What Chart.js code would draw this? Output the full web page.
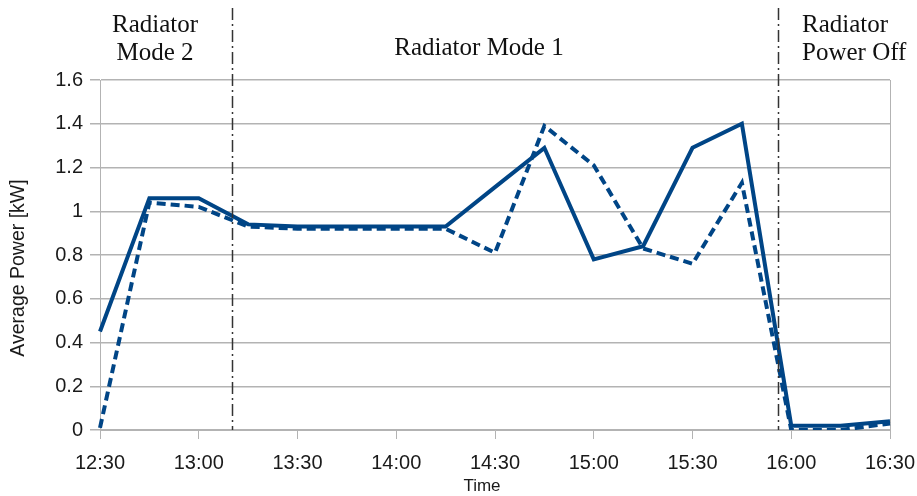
<!DOCTYPE html>
<html>
<head>
<meta charset="utf-8">
<script src="https://cdn.jsdelivr.net/npm/chart.js@4/dist/chart.umd.min.js"></script>
<style>
  html, body { margin: 0; padding: 0; background: #fff; }
  #wrap { width: 917px; height: 496px; position: relative; }
</style>
</head>
<body>
<div id="wrap"><canvas id="grafico"></canvas></div>
<script>
// Datos
const horas = ["12:30", "12:45", "13:00", "13:15", "13:30", "13:45", "14:00", "14:15", "14:30",
               "14:45", "15:00", "15:15", "15:30", "15:45", "16:00", "16:15", "16:30"];
const potenciaSolida = [0.45, 1.06, 1.06, 0.94, 0.93, 0.93, 0.93, 0.93, 1.11,
                        1.29, 0.78, 0.84, 1.29, 1.40, 0.02, 0.02, 0.04];
const potenciaDiscontinua = [0.01, 1.04, 1.02, 0.93, 0.92, 0.92, 0.92, 0.92, 0.81,
                             1.39, 1.21, 0.83, 0.76, 1.13, 0.00, 0.00, 0.03];
const ticksY = [0, 0.2, 0.4, 0.6, 0.8, 1, 1.2, 1.4, 1.6];
// Cambios de modo (posición en el eje, en índices de categoría)
const cambiosModo = [2.67, 13.73];
const etiquetasModo = [
  { lineas: ["Radiator", "Mode 2"], x: 155, align: "center" },
  { lineas: ["Radiator Mode 1"], x: 479, align: "center", y0: 55 },
  { lineas: ["Radiator", "Power Off"], x: 802, align: "left" }
];
const tituloX = "Time";
const tituloY = "Average Power [kW]";

const azul = "#004586";
const gris = "#b3b3b3";
const texto = "#1a1a1a";

// Plugin para las líneas verticales, los textos de arriba y los títulos de ejes
const pluginModos = {
  id: "modos",
  afterDatasetsDraw(chart) {
    const ctx = chart.ctx;
    const xScale = chart.scales.x;
    const area = chart.chartArea;
    ctx.save();
    ctx.strokeStyle = "#333";
    ctx.lineWidth = 1.5;
    ctx.setLineDash([12, 4, 2, 4]);
    cambiosModo.forEach(v => {
      const px = Math.round(xScale.getPixelForValue(v)) + 0.5;
      ctx.beginPath();
      ctx.moveTo(px, 8);
      ctx.lineTo(px, area.bottom);
      ctx.stroke();
    });
    ctx.setLineDash([]);
    ctx.fillStyle = "#111";
    ctx.font = "25px 'Liberation Serif'";
    ctx.textBaseline = "alphabetic";
    etiquetasModo.forEach(e => {
      ctx.textAlign = e.align;
      let y = e.y0 || 32;
      e.lineas.forEach(l => {
        ctx.fillText(l, e.x, y);
        y += 28;
      });
    });

    // Títulos de los ejes
    ctx.fillStyle = texto;
    ctx.font = "17px 'Liberation Sans'";
    ctx.textAlign = "center";
    ctx.textBaseline = "middle";
    ctx.fillText(tituloX, 482, 486);
    ctx.font = "19.5px 'Liberation Sans'";
    ctx.translate(19, 268);
    ctx.rotate(-Math.PI / 2);
    ctx.fillText(tituloY, 0, 0);
    ctx.restore();
  }
};

new Chart(document.getElementById("grafico"), {
  type: "line",
  data: {
    labels: horas,
    datasets: [
      {
        data: potenciaSolida,
        borderColor: azul,
        borderWidth: 4,
        pointRadius: 0,
        tension: 0,
        fill: false
      },
      {
        data: potenciaDiscontinua,
        borderColor: azul,
        borderWidth: 4,
        borderDash: [9, 5],
        pointRadius: 0,
        tension: 0,
        fill: false
      }
    ]
  },
  options: {
    responsive: true,
    maintainAspectRatio: false,
    animation: false,
    layout: { padding: { top: 80, right: 0, left: 0, bottom: 0 } },
    plugins: {
      legend: { display: false },
      tooltip: { enabled: false }
    },
    scales: {
      x: {
        type: "category",
        offset: false,
        border: { color: gris, width: 1 },
        grid: {
          drawOnChartArea: true,
          color: c => (c.index === horas.length - 1 ? gris : "transparent"),
          tickColor: c => (c.index % 2 === 0 ? gris : "transparent"),
          tickLength: 9
        },
        ticks: {
          autoSkip: false,
          maxRotation: 0,
          padding: 12,
          color: texto,
          font: { family: "'Liberation Sans'", size: 20 },
          callback: function(valor, i) {
            return i % 2 === 0 ? horas[i] : "";
          }
        },
        afterFit: s => {
          s.height = 66;
          s.paddingLeft = 0;
          s.paddingRight = 27;
        }
      },
      y: {
        min: 0,
        max: 1.6,
        border: { color: gris, width: 1 },
        grid: { color: gris, tickColor: gris, tickLength: 10, lineWidth: 1.5 },
        afterBuildTicks: s => { s.ticks = ticksY.map(v => ({ value: v })); },
        ticks: {
          padding: 7,
          color: texto,
          font: { family: "'Liberation Sans'", size: 20 },
          callback: v => String(Math.round(v * 10) / 10)
        },
        afterFit: s => { s.width = 100; }
      }
    }
  },
  plugins: [pluginModos]
});
</script>
</body>
</html>
